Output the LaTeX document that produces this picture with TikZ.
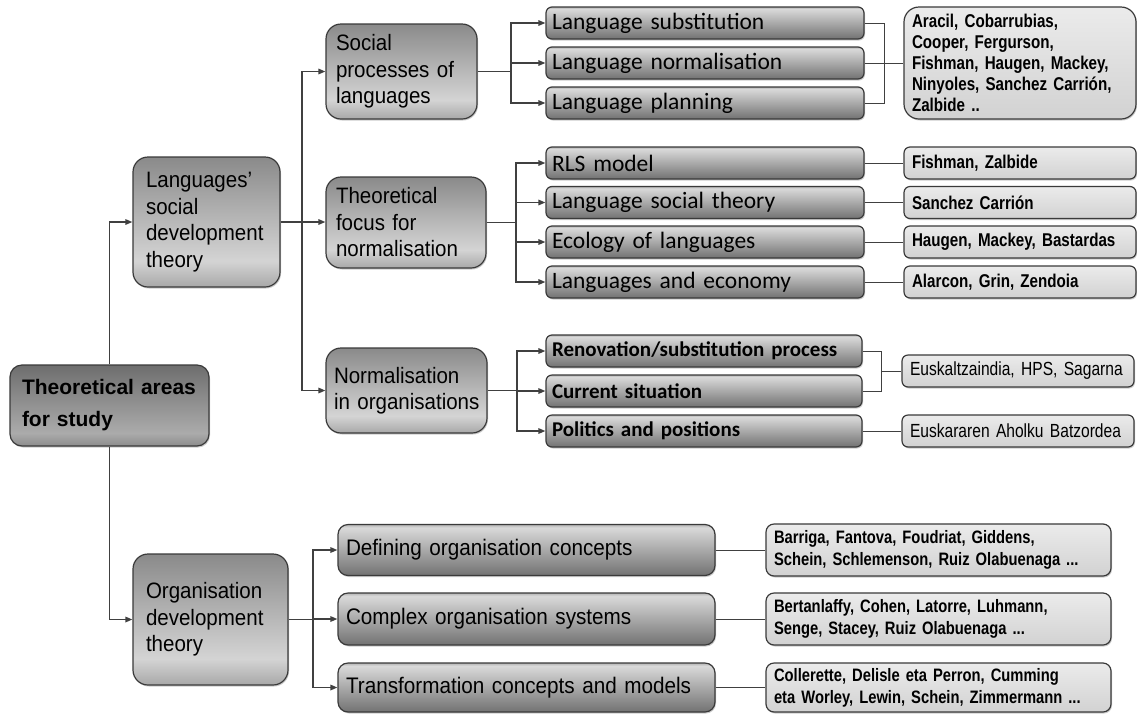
\documentclass[tikz,border=0pt]{standalone}
\usepackage{fontspec}
\setmainfont{Liberation Sans}
\newfontfamily\calfont{Carlito}
\newfontfamily\arialc[FakeStretch=0.92]{Liberation Sans}
\newfontfamily\narrowfont[FakeStretch=0.82]{Liberation Sans}
\usetikzlibrary{arrows.meta,shadows}
\definecolor{linec}{HTML}{404040}
\definecolor{bordc}{HTML}{3A3A3A}
\definecolor{bgtop}{HTML}{8A8A8A}
\definecolor{bgmid}{HTML}{D4D4D4}
\definecolor{bgbot}{HTML}{A8A8A8}
\definecolor{rttop}{HTML}{6E6E6E}
\definecolor{rtmid}{HTML}{ABABAB}
\definecolor{rtbot}{HTML}{8C8C8C}
\definecolor{sbtop}{HTML}{D9D9D9}
\definecolor{sbmid}{HTML}{B4B4B4}
\definecolor{sbbot}{HTML}{727272}
\definecolor{autop}{HTML}{EBEBEB}
\definecolor{aubot}{HTML}{D2D2D2}
\pgfdeclareverticalshading{bigsh}{100bp}{color(0bp)=(bgbot); color(25bp)=(bgbot); color(35bp)=(bgmid); color(75bp)=(bgtop); color(100bp)=(bgtop)}
\pgfdeclareverticalshading{rootsh}{100bp}{color(0bp)=(rtbot); color(25bp)=(rtbot); color(33bp)=(rtmid); color(75bp)=(rttop); color(100bp)=(rttop)}
\pgfdeclareverticalshading{subsh}{100bp}{color(0bp)=(sbbot); color(25bp)=(sbbot); color(55bp)=(sbmid); color(72bp)=(sbtop); color(75bp)=(sbmid); color(100bp)=(sbmid)}
\tikzset{
  conn/.style={draw=linec, line width=1.5pt},
  arr/.style={conn, -{Triangle[length=7pt,width=5.5pt]}},
  thinconn/.style={draw=linec, line width=1pt},
  basebox/.style={draw=bordc, line width=1.2pt, inner ysep=0pt, align=left,
    drop shadow={shadow xshift=1pt, shadow yshift=-1.5pt, opacity=0.4}},
  bigbox/.style={basebox, shading=bigsh, rounded corners=15pt, inner xsep=10pt,
    font=\arialc\fontsize{22.3}{26.5}\selectfont},
  rootbox/.style={basebox, shading=rootsh, rounded corners=12pt, inner xsep=12pt,
    font=\bfseries\fontsize{21}{32}\selectfont},
  subbox/.style={basebox, shading=subsh, rounded corners=6pt, inner xsep=6pt,
    minimum height=32pt, font=\calfont\fontsize{23.5}{26}\selectfont},
  nsubbox/.style={subbox, font=\calfont\bfseries\fontsize{21}{24}\selectfont},
  osubbox/.style={basebox, shading=subsh, rounded corners=10pt, inner xsep=8pt,
    minimum width=377pt, text width=361pt, font=\arialc\fontsize{22.5}{24}\selectfont},
  aubox/.style={basebox, top color=autop, bottom color=aubot, rounded corners=6pt,
    inner xsep=8pt, font=\narrowfont\bfseries\fontsize{18.5}{21}\selectfont},
  aulight/.style={aubox, font=\narrowfont\fontsize{19}{22}\selectfont},
}
\begin{document}
\begin{tikzpicture}[x=1pt,y=-1pt]
\useasboundingbox (0,0) rectangle (1137,713);
\fill[white] (0,0) rectangle (1137,713);

% main boxes
\node[rootbox, minimum width=199pt, text width=175pt, minimum height=81pt] (root) at (109.5,405.5)
  {\mbox{Theoretical areas}\\for study};
\node[bigbox, minimum width=147pt, text width=121pt, inner xsep=13pt, minimum height=130pt] (lang) at (206.5,222)
  {Languages’\\social\\\mbox{development}\\theory};
\node[bigbox, minimum width=155pt, text width=129pt, inner xsep=13pt, minimum height=131pt] (org) at (210.5,619.5)
  {Organisation\\\mbox{development}\\theory};
\node[bigbox, minimum width=151pt, text width=131pt, minimum height=95pt] (social) at (401.5,71.5)
  {Social\\\mbox{processes of}\\languages};
\node[bigbox, minimum width=160pt, text width=140pt, minimum height=91pt] (tf) at (406,222.5)
  {Theoretical\\focus for\\normalisation};
\node[bigbox, minimum width=161pt, text width=145pt, inner xsep=8pt, minimum height=85pt] (norm) at (406.5,390.5)
  {Normalisation\\\mbox{in organisations}};

% social processes sub boxes
\node[subbox, minimum width=318pt, text width=306pt] (ls) at (705,23) {Language substitution};
\node[subbox, minimum width=318pt, text width=306pt] (ln) at (705,63) {Language normalisation};
\node[subbox, minimum width=318pt, text width=306pt] (lp) at (705,103) {Language planning};
\node[aubox, rounded corners=15pt, minimum width=232pt, text width=216pt, minimum height=112pt] (au1) at (1020,63)
  {Aracil, Cobarrubias,\\Cooper, Fergurson,\\Fishman, Haugen, Mackey,\\\mbox{Ninyoles, Sanchez Carrión,}\\Zalbide ..};

% theoretical focus sub boxes
\node[subbox, minimum width=318pt, text width=306pt] (rls) at (705,163) {RLS model};
\node[subbox, minimum width=318pt, text width=306pt] (lst) at (705,202.5) {Language social theory};
\node[subbox, minimum width=318pt, text width=306pt] (eco) at (705,242) {Ecology of languages};
\node[subbox, minimum width=318pt, text width=306pt] (econ) at (705,282) {Languages and economy};
\node[aubox, minimum width=232pt, text width=216pt, minimum height=32pt] (arls) at (1020,163) {Fishman, Zalbide};
\node[aubox, minimum width=232pt, text width=216pt, minimum height=32pt] (alst) at (1020,202.5) {Sanchez Carrión};
\node[aubox, minimum width=232pt, text width=216pt, minimum height=32pt] (aeco) at (1020,242) {Haugen, Mackey, Bastardas};
\node[aubox, minimum width=232pt, text width=216pt, minimum height=32pt] (aecon) at (1020,282) {Alarcon, Grin, Zendoia};

% normalisation sub boxes
\node[nsubbox, minimum width=316pt, text width=304pt] (reno) at (704,351) {Renovation/substitution process};
\node[nsubbox, minimum width=316pt, text width=304pt] (cur) at (704,391) {Current situation};
\node[nsubbox, minimum width=316pt, text width=304pt] (pol) at (704,431) {Politics and positions};
\node[aulight, minimum width=232pt, text width=216pt, minimum height=32pt] (eusk) at (1018,371) {Euskaltzaindia, HPS, Sagarna};
\node[aulight, minimum width=232pt, text width=216pt, minimum height=32pt] (eab) at (1018,431) {Euskararen Aholku Batzordea};

% organisation sub boxes
\node[osubbox, minimum height=51pt] (def) at (526.5,550) {Defining organisation concepts};
\node[osubbox, minimum height=52pt] (cpx) at (526.5,619) {Complex organisation systems};
\node[osubbox, minimum height=49pt] (trf) at (526.5,687.5) {Transformation concepts and models};
\node[aubox, rounded corners=8pt, minimum width=345pt, text width=329pt, minimum height=52pt,
  font=\narrowfont\bfseries\fontsize{18}{22}\selectfont] (bar) at (938.5,550)
  {\mbox{Barriga, Fantova, Foudriat, Giddens,}\\\mbox{Schein, Schlemenson, Ruiz Olabuenaga ...}};
\node[aubox, rounded corners=8pt, minimum width=345pt, text width=329pt, minimum height=52pt,
  font=\narrowfont\bfseries\fontsize{18}{22}\selectfont] (ber) at (938.5,619)
  {\mbox{Bertanlaffy, Cohen, Latorre, Luhmann,}\\\mbox{Senge, Stacey, Ruiz Olabuenaga ...}};
\node[aubox, rounded corners=8pt, minimum width=345pt, text width=329pt, minimum height=49pt,
  font=\narrowfont\bfseries\fontsize{18}{22}\selectfont] (col) at (938.5,687.5)
  {\mbox{Collerette, Delisle eta Perron, Cumming}\\\mbox{eta Worley, Lewin, Schein, Zimmermann ...}};

% junction coordinates
\coordinate (j1) at (302,222);
\coordinate (j2) at (511,71.5);
\coordinate (j3) at (516,222.5);
\coordinate (j4) at (517,390.5);
\coordinate (j5) at (313,619.5);
\coordinate (b1) at (884,63);
\coordinate (b2) at (881,371);

% level 1
\draw[arr] (root) |- (lang);
\draw[arr] (root) |- (org);
% level 2
\draw[arr] (lang.east) -- (lang.east -| tf.west);
\draw[arr] (j1) |- (social);
\draw[arr] (j1) |- (norm);
% social subs
\draw[conn] (social.east) -- (j2);
\draw[arr] (j2) |- (ls);
\draw[arr] (j2) |- (ln);
\draw[arr] (j2) |- (lp);
% theoretical subs
\draw[conn] (tf.east) -- (j3);
\draw[arr] (j3) |- (rls);
\draw[arr] (j3) |- (lst);
\draw[arr] (j3) |- (eco);
\draw[arr] (j3) |- (econ);
% normalisation subs
\draw[conn] (norm.east) -- (j4);
\draw[arr] (j4) |- (reno);
\draw[arr] (j4) |- (cur);
\draw[arr] (j4) |- (pol);
% organisation subs
\draw[conn] (org.east) -- (j5);
\draw[arr] (j5) |- (def);
\draw[arr] (j5) |- (cpx);
\draw[arr] (j5) |- (trf);
% author links
\draw[thinconn] (ls.east) -| (b1) |- (lp.east);
\draw[thinconn] (ln.east) -- (au1.west);
\draw[thinconn] (rls) -- (arls);
\draw[thinconn] (lst) -- (alst);
\draw[thinconn] (eco) -- (aeco);
\draw[thinconn] (econ) -- (aecon);
\draw[thinconn] (reno.east) -| (b2) |- (cur.east);
\draw[thinconn] (b2) -- (eusk.west);
\draw[thinconn] (pol) -- (eab);
\draw[thinconn] (def) -- (bar);
\draw[thinconn] (cpx) -- (ber);
\draw[thinconn] (trf) -- (col);
\end{tikzpicture}
\end{document}
